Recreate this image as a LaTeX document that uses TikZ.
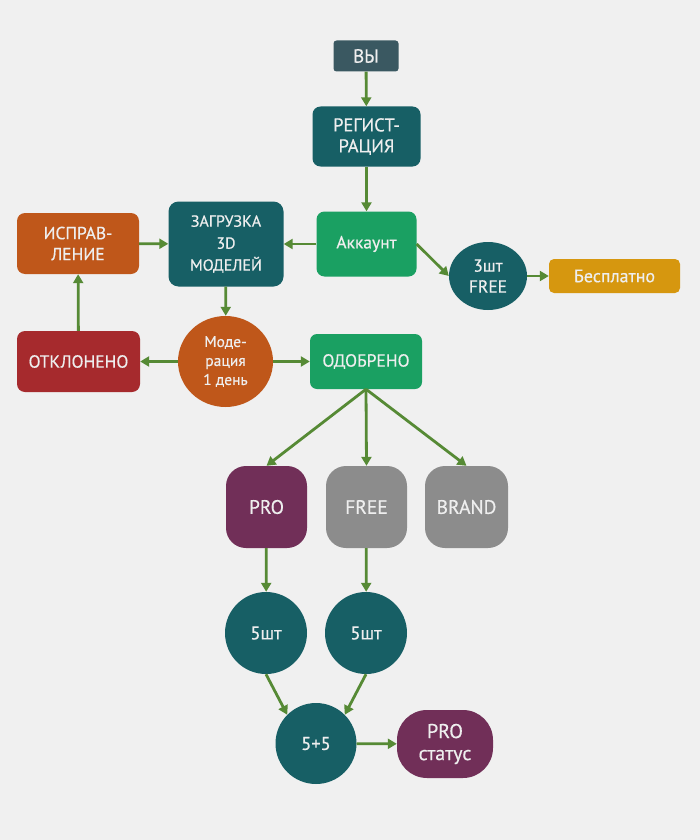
\documentclass[tikz,border=0pt]{standalone}
\usepackage{fontspec}
\setmainfont{PT Sans}[FakeBold=0.5]
\usepackage{tikz}
\usetikzlibrary{arrows.meta}
\usetikzlibrary{shapes.geometric}

\definecolor{bggray}{HTML}{F0F0F0}
\definecolor{slategray}{HTML}{3A5861}
\definecolor{darkteal}{HTML}{175F65}
\definecolor{leafgreen}{HTML}{1AA062}
\definecolor{rustorange}{HTML}{BF571A}
\definecolor{brickred}{HTML}{A62A2D}
\definecolor{goldbox}{HTML}{D6970F}
\definecolor{plum}{HTML}{712F58}
\definecolor{midgray}{HTML}{8C8C8C}
\definecolor{arrowgreen}{HTML}{568A35}
\definecolor{paletext}{HTML}{EEEEEE}

\tikzset{
  box/.style = {rounded corners=8pt, inner sep=0pt, align=center, text=paletext,
                font=\fontsize{17.5}{21}\selectfont},
  tallbox/.style = {box, rounded corners=20pt, font=\fontsize{19.5}{21}\selectfont},
  roundel/.style = {circle, inner sep=0pt, minimum size=82pt, fill=darkteal, text=paletext,
                    align=center, font=\fontsize{18.5}{21}\selectfont},
  oval/.style = {ellipse, inner sep=0pt, align=center, text=paletext},
  flow/.style = {-{Triangle[length=9pt, width=10pt]}, line width=2.8pt, draw=arrowgreen},
}

\begin{document}
\begin{tikzpicture}[x=1pt, y=-1pt]
\fill[bggray] (0,0) rectangle (700,840);
\useasboundingbox (0,0) rectangle (700,840);

% upper part
\node[box, fill=slategray, rounded corners=3pt, minimum width=65pt, minimum height=31pt, font=\fontsize{19}{21}\selectfont] (you) at (366,56) {ВЫ};
\node[box, fill=darkteal, minimum width=108pt, minimum height=60pt, font=\fontsize{18.5}{21}\selectfont] (signup) at (366.5,136.5) {РЕГИСТ-\\РАЦИЯ};
\node[box, fill=leafgreen, minimum width=100pt, minimum height=65pt] (account) at (366.5,244) {Аккаунт};
\node[box, fill=darkteal, rounded corners=10pt, minimum width=115pt, minimum height=85pt, font=\fontsize{16}{22}\selectfont] (upload) at (226,244) {ЗАГРУЗКА\\3D\\МОДЕЛЕЙ};
\node[box, fill=rustorange, minimum width=122pt, minimum height=61pt] (fix) at (78,243.5) {ИСПРАВ-\\ЛЕНИЕ};
\node[oval, fill=darkteal, minimum width=78pt, minimum height=68pt, font=\fontsize{17.5}{21}\selectfont] (free3) at (488,276) {3шт\\FREE};
\node[box, fill=goldbox, rounded corners=5pt, minimum width=131pt, minimum height=34pt, font=\fontsize{18}{21}\selectfont] (gratis) at (614.5,276) {Бесплатно};

% moderation
\node[box, fill=brickred, minimum width=123pt, minimum height=61pt] (rejected) at (78.5,361.5) {ОТКЛОНЕНО};
\node[oval, fill=rustorange, minimum width=95pt, minimum height=91pt, font=\fontsize{15.5}{19}\selectfont] (moder) at (225.5,361.5) {Моде-\\рация\\1 день};
\node[box, fill=leafgreen, rounded corners=7pt, minimum width=112pt, minimum height=55pt] (approved) at (366,361.5) {ОДОБРЕНО};

% tariffs
\node[tallbox, fill=plum, minimum width=81pt, minimum height=82pt] (pro) at (266.5,507) {PRO};
\node[tallbox, fill=midgray, minimum width=81pt, minimum height=82pt] (free) at (366.5,507) {FREE};
\node[tallbox, fill=midgray, minimum width=83pt, minimum height=82pt] (brand) at (466.5,507) {BRAND};

\node[roundel] (pro5) at (266,633) {5шт};
\node[roundel] (free5) at (366,633) {5шт};
\node[roundel, minimum size=81pt] (sum) at (316,743.5) {5+5};
\node[box, fill=plum, rounded corners=30pt, minimum width=96pt, minimum height=68pt, font=\fontsize{20}{22}\selectfont] (prostatus) at (445,744) {PRO\\статус};

% arrows
\draw[flow] (you) -- (signup);
\draw[flow] (signup) -- (account);
\draw[flow] (account) -- (upload);
\draw[flow] (account.east) -- (free3.west);
\draw[flow] (free3) -- (gratis);
\draw[flow] (fix) -- (upload);
\draw[flow] (upload) -- (moder);
\draw[flow] (moder) -- (rejected);
\draw[flow] (moder) -- (approved);
\draw[flow] (rejected) -- (fix);
\draw[flow] (approved.south) -- (pro.north);
\draw[flow] (approved.south) -- (free.north);
\draw[flow] (approved.south) -- (brand.north);
\draw[flow] (pro) -- (pro5);
\draw[flow] (free) -- (free5);
\draw[flow] (pro5.south) -- (sum.north west);
\draw[flow] (free5.south) -- (sum.north east);
\draw[flow] (sum) -- (prostatus);
\end{tikzpicture}
\end{document}
